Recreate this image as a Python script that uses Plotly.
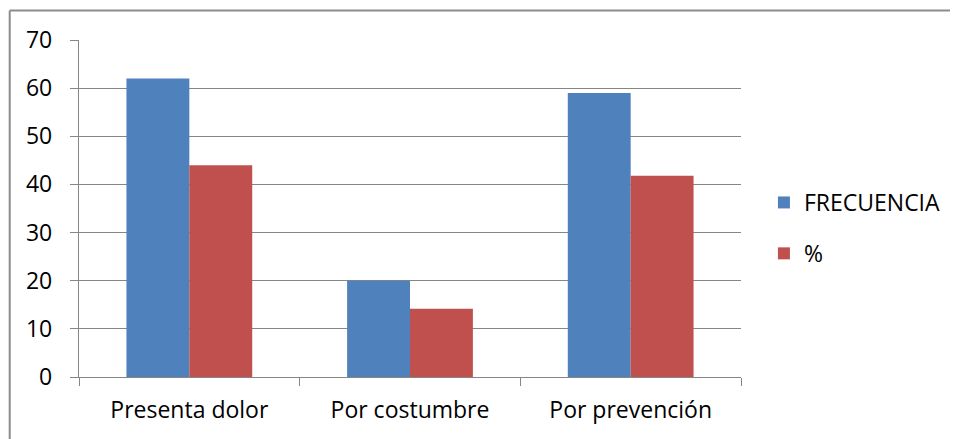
import plotly.graph_objects as go

categories = ["Presenta dolor", "Por costumbre", "Por prevención"]
frecuencia = [62, 20, 59]
porcentaje = [44.0, 14.2, 41.8]
series_names = ["FRECUENCIA", "%"]
colors = ["#4F81BD", "#C0504D"]
y_ticks = [0, 10, 20, 30, 40, 50, 60, 70]

OFF = 8  # page body margin
W, H = 958 - OFF, 439 - OFF
# screen-space plot box in the reference
sx0, sx1, sy0, sy1 = 79, 743, 40, 377
L, R, T, B = sx0 - OFF, W - (sx1 - OFF), sy0 - OFF, H - (sy1 - OFF)
pw, ph = W - L - R, H - T - B

def px(x):
    return (x - sx0) / pw

def py(y):
    return (sy1 - y) / ph

fig = go.Figure()
for name, vals, col, g in zip(series_names, [frecuencia, porcentaje], colors, ["a", "b"]):
    fig.add_trace(go.Bar(x=categories, y=vals, name=name, marker=dict(color=col, line=dict(width=0)),
                         legendgroup=g))

font = "'Open Sans', sans-serif"
fig.update_layout(
    width=W, height=H,
    margin=dict(l=L, r=R, t=T, b=B, pad=0),
    paper_bgcolor="white", plot_bgcolor="white",
    barmode="group", bargap=0.43, bargroupgap=0,
    font=dict(family=font, size=23, color="#000000"),
    legend=dict(x=px(766), y=py(181), xanchor="left", yanchor="top",
                font=dict(size=23), tracegroupgap=18, traceorder="grouped",
                bgcolor="rgba(0,0,0,0)"),
    xaxis=dict(showline=True, linecolor="#868686", linewidth=1.3, ticks="outside",
               tickson="boundaries", ticklen=8, tickcolor="#868686", tickwidth=1.3,
               showgrid=False, ticklabelstandoff=12, tickfont=dict(size=23)),
    yaxis=dict(range=[0, 70], tickvals=y_ticks, showline=True, linecolor="#868686", linewidth=1.3,
               ticks="outside", ticklen=8, tickcolor="#868686", tickwidth=1.3,
               showgrid=True, gridcolor="#868686", gridwidth=1.3, zeroline=False,
               ticklabelstandoff=13, tickfont=dict(size=23)),
    showlegend=True,
)

# outer chart frame (top and left edges visible)
fx = px(9.5)
fy = py(10.5)
fig.add_shape(type="line", xref="paper", yref="paper", x0=fx, x1=px(W + 20), y0=fy, y1=fy,
              line=dict(color="#8C8C8C", width=2))
fig.add_shape(type="line", xref="paper", yref="paper", x0=fx, x1=fx, y0=fy, y1=py(H + 20),
              line=dict(color="#8C8C8C", width=2))

fig.write_html("out.html")
